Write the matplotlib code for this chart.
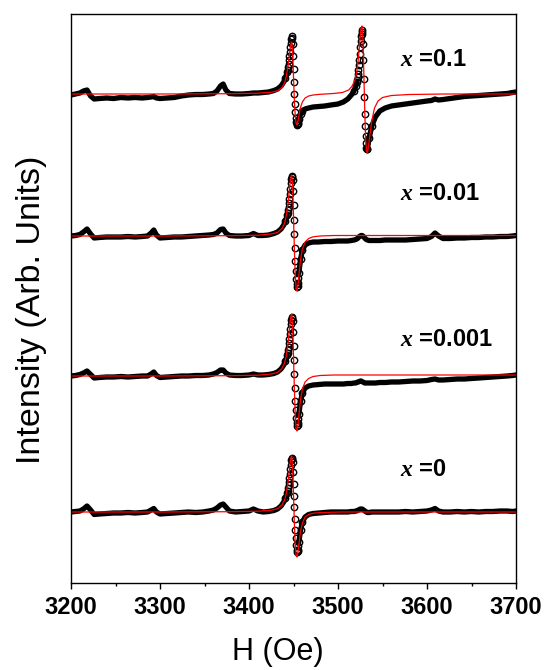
import numpy as np
import matplotlib
matplotlib.use('Agg')
from matplotlib import pyplot as plt
from matplotlib.ticker import MultipleLocator

plt.rcParams['font.family'] = ['Liberation Sans', 'DejaVu Sans']
plt.rcParams['mathtext.fontset'] = 'custom'
plt.rcParams['mathtext.it'] = 'Liberation Serif:italic:bold'

# magnetic field of the measured points (Oe)
field = [3200, 3205, 3210, 3214, 3218, 3222, 3226, 3232, 3240, 3248,
         3256, 3264, 3272, 3280, 3286, 3290, 3293, 3296, 3300, 3308,
         3316, 3324, 3332, 3340, 3348, 3355, 3360, 3364, 3368, 3371,
         3374, 3378, 3385, 3392, 3400, 3405, 3410, 3416, 3422, 3428,
         3432, 3436, 3439, 3441,
         3443, 3443.5, 3444, 3444.5, 3445, 3445.5, 3446, 3446.5, 3447, 3447.5,
         3448, 3448.5, 3449, 3449.5, 3450, 3450.5, 3451, 3451.5, 3452, 3452.5,
         3453, 3453.5, 3454, 3454.5, 3455, 3455.5, 3456,
         3458, 3460, 3463, 3467, 3472, 3478, 3485, 3492, 3500, 3506,
         3511, 3515, 3518, 3520,
         3521, 3521.5, 3522, 3522.5, 3523, 3523.5, 3524, 3524.5, 3525, 3525.5,
         3526, 3526.5, 3527, 3527.5, 3528, 3528.5, 3529, 3529.5, 3530, 3530.5,
         3531, 3531.5, 3532, 3532.5, 3533,
         3535, 3538, 3542, 3547, 3553,
         3560, 3568, 3576, 3584, 3592, 3600, 3605, 3609, 3613, 3618,
         3626, 3634, 3642, 3650, 3658, 3666, 3674, 3682, 3690, 3696, 3700]

# measured signal (arb. units), one list per sample
sig_x01 = [-1, 0, 1, 3, 4, -2, -5, -4.5, -4, -4.5,
           -3.5, -4, -3.5, -4, -3.5, -3, -2.5, -4, -4.5, -4,
           -3.5, -2, -1, -0.5, -0.5, 0, 0.5, 3, 8, 10,
           4, 0.5, 0, 0, 0.5, 1, 1, 1.5, 2, 3.5,
           5, 8, 12, 16,
           22, 24, 27, 30, 34, 38, 42, 47, 51, 55,
           58, 56, 50, 38, 25, 12, 0, -10, -18, -24,
           -28, -30, -31, -30.5, -29, -27, -25,
           -20, -17, -15, -14, -13, -12.5, -12, -11, -10, -8,
           -5, -1, 3, 8,
           12, 14, 17, 20, 24, 29, 34, 40, 47, 53,
           58, 62, 64, 60, 50, 34, 15, -3, -20, -32,
           -42, -49, -54, -55, -55,
           -44, -32, -23, -17, -14,
           -12, -11, -10, -9, -8, -7, -6.5, -5, -6, -5.5,
           -4.5, -3.5, -2.5, -2, -1.5, -1, -0.5, 0, 0.5, 1.5, 2]
sig_x001 = [0, 0.5, 1.5, 4, 7, 2, -2, -1.5, -1, -1,
            -1, -0.5, -1, -0.5, 0, 3, 6, 1, -2, -1.5,
            -1, -1, -0.5, 0, 0.5, 1, 1.5, 3, 6.5, 7,
            3, 0.5, 0, 0, 0.5, 2.5, 0.5, 0.5, 1, 2.5,
            4, 7, 11, 15,
            21, 23, 26, 29, 33, 37, 42, 47, 53, 57,
            60, 59, 56, 45, 31, 16, 2, -12, -25, -35,
            -43, -48, -51, -50, -47, -42, -37,
            -23, -14, -9, -7, -6, -6, -5.5, -5.5, -5, -5,
            -5, -4.5, -4, -3.5,
            -3, -2.8, -2.5, -2, -1.5, -1, -0.5, -0.2, 0, 0.3,
            0.5, 0.5, 0.5, 0.3, 0, -0.5, -1, -1.5, -2, -2.5,
            -3, -3.3, -3.5, -3.8, -4,
            -4.5, -4.5, -4.5, -4.5, -4,
            -4, -4, -4, -3.5, -3, -2.5, -0.5, 3, 0, -2.5,
            -2.5, -2, -2, -1.5, -1.5, -1, -1, -0.5, -0.5, 0, 0.5]
sig_x0001 = [0, 0.5, 1.5, 3, 5, 1.5, -2, -1.5, -1, -1,
             -0.5, -1, -0.5, 0, 0, 2, 4, 0.5, -1.5, -1,
             -0.5, 0, 0, 0.5, 0.5, 1, 2, 3.5, 6, 6,
             3, 1, 0.5, 0.5, 1, 2, 1, 1, 1.5, 2.5,
             4, 7, 11, 15,
             21, 23, 26, 29, 33, 37, 42, 47, 52, 56,
             59, 58, 55, 44, 30, 16, 2, -12, -25, -34,
             -42, -47, -50, -49, -47, -43, -38,
             -25, -17, -12, -10, -9, -8.5, -8, -8, -8, -8,
             -7.5, -7.5, -7, -7,
             -6.5, -6.3, -6, -6, -6, -5.8, -5.5, -5.3, -5, -5,
             -5, -5.3, -5.5, -5.8, -6, -6.3, -6.5, -6.8, -7, -7,
             -7, -7, -7, -7, -7,
             -7, -7, -7, -6.5, -6.5,
             -6, -6, -5.5, -5, -5, -4.5, -3.5, -3, -4, -4,
             -3.5, -3, -3, -2.5, -2, -1.5, -1, -0.5, 0, 0.5, 1]
sig_x0 = [0, 0.5, 1, 3, 6, 2, -2.5, -2, -1.5, -1,
          -1, -0.5, -1, -0.5, 0, 2, 3.5, 0, -2, -1.5,
          -1, -0.5, 0, -0.5, 0, 1, 2, 4, 7, 8,
          5, 1, 0, 0.5, 1, 3, 1, 0, 0.5, 1.5,
          3, 6, 10, 14,
          19, 21, 24, 27, 30, 34, 38, 43, 47, 52,
          54, 53, 50, 40, 28, 16, 5, -7, -18, -26,
          -33, -38, -40, -39, -38, -34, -30,
          -18, -10, -5, -2.5, -1.5, -1, -0.5, 0, 0, 0,
          0, 0.5, 0.5, 1,
          1, 1.2, 1.5, 1.8, 2, 2.2, 2.5, 2.8, 3, 3,
          3, 3, 3, 2.8, 2.5, 2.2, 2, 1.5, 1, 0.8,
          0.5, 0.2, 0, -0.3, -0.5,
          -0.5, 0, 0, 0, 0,
          0, 0, 0.5, 0, 0.5, 1, 2, 3.5, 1, 0,
          0, 0.5, 0, 0.5, 0, 0.5, 0.5, 1, 1, 0.5, 1]

# field of the fitted curves (Oe)
field_fit = [3200, 3300, 3380, 3410, 3425, 3432, 3437, 3440, 3442, 3444,
             3445, 3446, 3447, 3448, 3449, 3450, 3451, 3452, 3453, 3454,
             3455, 3456, 3458, 3460, 3463, 3467, 3472, 3480, 3495, 3505,
             3512, 3516, 3519, 3521, 3522, 3523, 3524, 3525, 3526, 3527,
             3528, 3529, 3530, 3531, 3532, 3533, 3534, 3536, 3538, 3541,
             3545, 3550, 3560, 3580, 3620, 3700]

fit_x01 = [0, 0, 0.3, 0.8, 1.8, 3.2, 6.5, 11, 18, 29,
           36, 44, 50, 52, 42, 17, -7, -22, -30, -31,
           -27, -22, -13, -8, -4, -2, -1, -0.3, 0.5, 1.5,
           4, 8, 14, 22, 28, 37, 47, 58, 66, 68,
           55, 22, -15, -44, -57, -59, -54, -40, -27, -14,
           -7, -3.5, -1.5, -0.5, 0, 0]
fit_x001 = [0, 0, 0.3, 0.8, 2, 3.5, 7.5, 13, 21, 34,
            43, 52, 58, 61, 50, 20, -14, -40, -53, -55,
            -49, -40, -23, -13, -6, -2.5, -0.8, 0, 0.5, 0.5,
            0.5, 0.5, 0.5, 0.5, 0.5, 0.5, 0.5, 0.5, 0.5, 0.5,
            0.5, 0.5, 0.5, 0.5, 0.5, 0.5, 0.5, 0.5, 0.5, 0.5,
            0.5, 0.5, 0.5, 0.5, 0.5, 0.5]
fit_x0001 = [0, 0, 0.3, 0.8, 2, 3.5, 7.5, 13, 21, 34,
             43, 52, 59, 62, 50, 20, -14, -40, -53, -55,
             -49, -40, -23, -13, -6, -2.5, -0.5, 0.5, 1, 1,
             1, 1, 1, 1, 1, 1, 1, 1, 1, 1,
             1, 1, 1, 1, 1, 1, 1, 1, 1, 1,
             1, 1, 1, 1, 1, 1]
fit_x0 = [0, 0, 0.3, 0.8, 1.8, 3.3, 7, 12, 19, 31,
          39, 47, 54, 56, 45, 18, -12, -33, -44, -45,
          -40, -33, -19, -11, -5, -2.5, -1.2, -0.6, -0.2, 0,
          0, 0, 0, 0, 0, 0, 0, 0, 0, 0,
          0, 0, 0, 0, 0, 0, 0, 0, 0, 0,
          0, 0, 0, 0, 0, 0]

labels = ['0.1', '0.01', '0.001', '0']
offsets = [489, 347, 207, 71]
label_y = [523, 389, 243, 114]

signals = [sig_x01, sig_x001, sig_x0001, sig_x0]
fits = [fit_x01, fit_x001, fit_x0001, fit_x0]

fig = plt.figure(figsize=(5.44, 6.70), dpi=100)
ax = fig.add_axes([71/544, 87/670, 445/544, 569/670])

h = np.array(field, dtype=float)
hf = np.array(field_fit, dtype=float)
for sig, fit, lab, off, ly in zip(signals, fits, labels, offsets, label_y):
    y = np.array(sig, dtype=float) + off
    # steep parts shown as separate circles, flat parts as a thick band
    steep = (h > 3443) & (h < 3456)
    circ = (h >= 3441) & (h <= 3460)
    if lab == '0.1':
        steep |= (h > 3521) & (h < 3533)
        circ |= (h >= 3518) & (h <= 3538)
    ax.plot(h, np.where(steep, np.nan, y), color='k', lw=3.8,
            solid_capstyle='round', solid_joinstyle='round')
    ax.plot(h[circ], y[circ], 'o', ms=4.6, mfc='none', mec='k', mew=1.0)
    ax.plot(hf, np.array(fit, dtype=float) + off, color='red', lw=0.9)
    ax.text(3570, ly, '$x$ =' + lab, fontsize=17, fontweight='bold',
            ha='left', va='center')

ax.set_xlim(3200, 3700)
ax.set_ylim(0, 569)
ax.set_yticks([])
ax.xaxis.set_major_locator(MultipleLocator(100))
ax.xaxis.set_minor_locator(MultipleLocator(50))
ax.tick_params(axis='x', which='major', direction='out', length=4, width=1,
               labelsize=17, pad=5)
ax.tick_params(axis='x', which='minor', direction='out', length=2.5, width=1)
plt.setp(ax.get_xticklabels(), fontweight='bold')
for s in ax.spines.values():
    s.set_linewidth(1.0)

ax.set_xlabel('H (Oe)', fontsize=22)
ax.set_ylabel('Intensity (Arb. Units)', fontsize=24.5)
ax.xaxis.set_label_coords(0.465, -0.095)
ax.yaxis.set_label_coords(-0.055, 0.48)

fig.savefig('out.png', dpi=100)
